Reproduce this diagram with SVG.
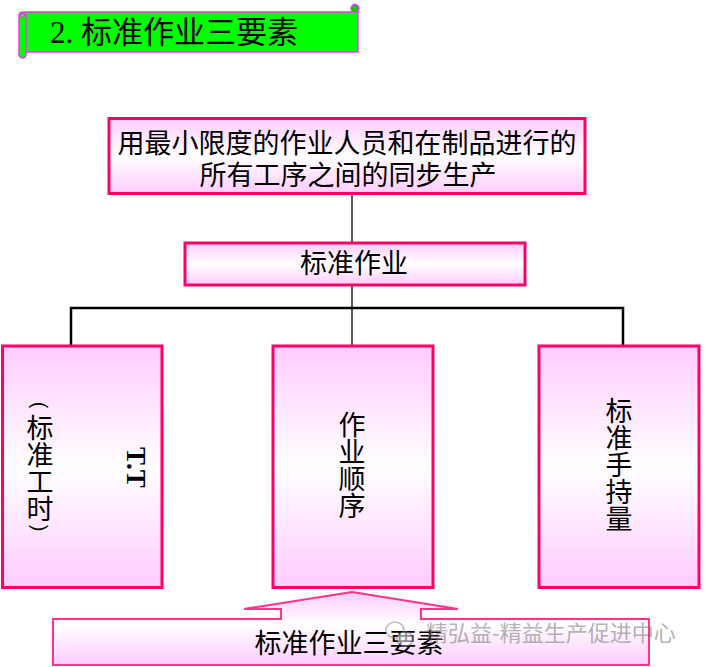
<svg xmlns="http://www.w3.org/2000/svg" width="707" height="667" viewBox="0 0 707 667">
<defs>
<linearGradient id="pinkV" x1="0" y1="0" x2="0" y2="1">
<stop offset="0" stop-color="#FFCCFF"/>
<stop offset="0.5" stop-color="#FFFFFF"/>
<stop offset="1" stop-color="#FFCCFF"/>
</linearGradient>
<linearGradient id="pinkArrow" x1="0" y1="0" x2="0" y2="1">
<stop offset="0" stop-color="#FFCCFF"/>
<stop offset="0.45" stop-color="#FFFFFF"/>
<stop offset="1" stop-color="#FFCCFF"/>
</linearGradient>
<style>
.box{fill:url(#pinkV);stroke:#FF0066;stroke-width:3}
.t{font-family:"Liberation Serif","Noto Sans CJK SC",serif;font-size:27px;fill:#000}
.c{text-anchor:middle}
.v{writing-mode:vertical-rl;font-family:"Noto Sans CJK SC",sans-serif;font-size:27px;fill:#000}
.p{font-family:"Liberation Sans",sans-serif;font-size:20px;fill:#000;text-anchor:middle;dominant-baseline:central}
.ln{stroke:#000;fill:none}
</style>
</defs>

<g id="title">
<rect x="25" y="12" width="333" height="40" fill="#00FF00" stroke="#FF33FF" stroke-width="1.5"/>
<circle cx="355" cy="8.5" r="4" fill="#00CC00" stroke="#FF33FF" stroke-width="1.5"/>
<rect x="19" y="12" width="7" height="46" rx="3.5" fill="#00FF00" stroke="#FF33FF" stroke-width="1.5"/>
<circle cx="22.5" cy="15.5" r="2.2" fill="#66CC66" stroke="#CC33CC" stroke-width="0.8"/>
<text x="50" y="43" style="font-family:'Liberation Serif','Noto Sans CJK SC',serif;font-size:31px;fill:#000">2. 标准作业三要素</text>
</g>

<g id="connectors">
<line class="ln" x1="352" y1="194" x2="352" y2="243" stroke-width="1.3"/>
<line class="ln" x1="352" y1="286" x2="352" y2="346" stroke-width="1.3"/>
<polyline class="ln" points="71,346 71,308 623,308 623,346" stroke-width="2.5"/>
</g>

<g id="goal">
<rect class="box" x="109" y="118.5" width="476" height="75"/>
<text class="t c" x="347" y="153">用最小限度的作业人员和在制品进行的</text>
<text class="t c" x="348" y="185">所有工序之间的同步生产</text>
</g>

<g id="standard-work">
<rect class="box" x="185" y="243" width="340" height="42"/>
<text class="t c" x="354" y="273">标准作业</text>
</g>

<g id="takt-time">
<rect class="box" x="2.5" y="346" width="159.5" height="241.5"/>
<text class="p" transform="translate(40,405) rotate(90)">(</text>
<text class="v" x="40" y="414">标准工时</text>
<text class="p" transform="translate(40,528) rotate(90)">)</text>
<text x="0" y="0" transform="translate(127,447) rotate(90)" style="font-family:'Liberation Serif',serif;font-size:27px;font-weight:bold;fill:#000">T.T</text>
</g>

<g id="work-sequence">
<rect class="box" x="273" y="346" width="160" height="241.5"/>
<text class="v" x="352" y="411">作业顺序</text>
</g>

<g id="standard-wip">
<rect class="box" x="539" y="346" width="160" height="241.5"/>
<text class="v" x="619" y="397">标准手持量</text>
</g>

<g id="three-elements">
<path d="M53,619 L281,619 L281,609 L244,609 L352,592 L458,609 L421,609 L421,619 L649,619 L649,665 L53,665 Z" fill="url(#pinkArrow)" stroke="#FF3388" stroke-width="2"/>
<text class="t c" x="349" y="653">标准作业三要素</text>
</g>

<g id="watermark" opacity="0.55">
<ellipse cx="395" cy="630" rx="9" ry="8" fill="none" stroke="#888" stroke-width="1.5"/>
<ellipse cx="405" cy="639" rx="8" ry="7" fill="#fff" stroke="#888" stroke-width="1.5"/>
<text x="426" y="641" style="font-family:'Noto Sans CJK SC',sans-serif;font-size:22px;fill:#777">精弘益-精益生产促进中心</text>
</g>
</svg>
